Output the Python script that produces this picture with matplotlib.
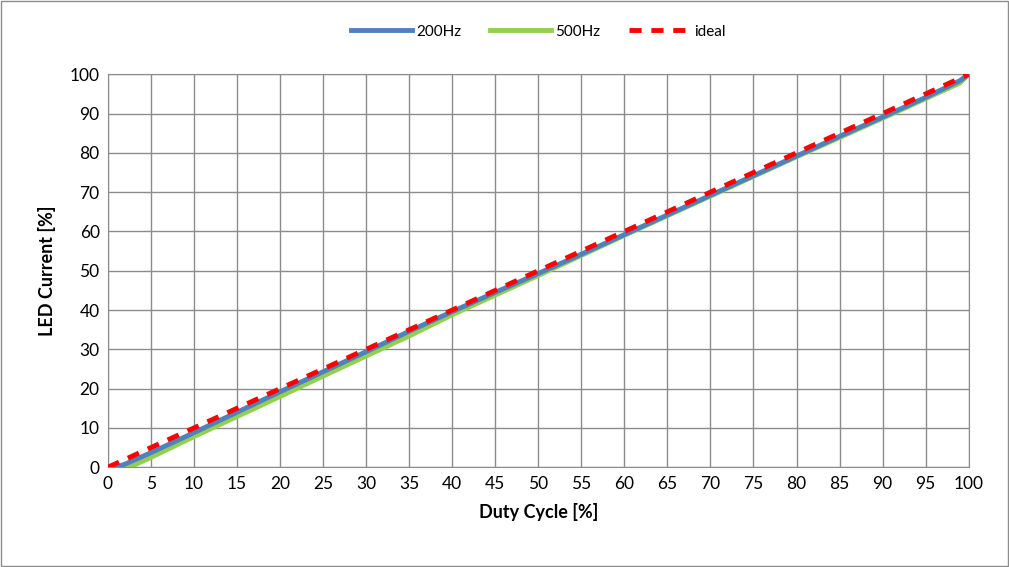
import matplotlib
matplotlib.use("Agg")
import matplotlib.pyplot as plt
from matplotlib.patches import Rectangle

plt.rcParams['font.family'] = ['Lato', 'DejaVu Sans']

duty_200 = [0, 1, 2, 5, 10, 15, 20, 25, 30, 35, 40, 45, 50, 55, 60, 65, 70, 75, 80, 85, 90, 95, 98, 99, 100]
current_200 = [0, 0, 0.8, 3.7, 8.8, 14.0, 19.2, 24.3, 29.4, 34.6, 39.6, 44.5, 49.3, 54.2, 59.2, 64.2, 69.2, 74.2, 79.2, 84.2, 89.1, 94.1, 97.3, 98.4, 100]

duty_500 = [0, 2.5, 5, 10, 15, 20, 25, 30, 35, 40, 45, 50, 55, 60, 65, 70, 75, 80, 85, 90, 95, 98, 99, 100]
current_500 = [0, 0, 2.5, 7.8, 12.9, 18.0, 23.2, 28.3, 33.4, 38.8, 43.8, 48.8, 53.9, 59.0, 64.0, 69.0, 74.0, 79.0, 83.9, 88.8, 93.8, 96.8, 97.8, 100]

duty_ideal = [0, 100]
current_ideal = [0, 100]

fig = plt.figure(figsize=(10.09, 5.67), dpi=100)
ax = fig.add_axes([0.107, 0.176, 0.853, 0.693])

ax.plot(duty_200, current_200, color='#4f81bd', lw=3.5, label='200Hz', zorder=3)
ax.plot(duty_500, current_500, color='#92d050', lw=3.5, label='500Hz', zorder=2)
ax.plot(duty_ideal, current_ideal, color='#ff0000', lw=3.5, ls=(0, (2.5, 2)), label='ideal', zorder=4)

ax.set_xlim(0, 100)
ax.set_ylim(0, 100)
ax.set_xticks(range(0, 101, 5))
ax.set_yticks(range(0, 101, 10))
ax.grid(True, color='#8c8c8c', lw=1)
ax.set_axisbelow(True)
for s in ax.spines.values():
    s.set_color('#8c8c8c')
ax.tick_params(length=0, labelsize=12.5, pad=6)

ax.set_xlabel('Duty Cycle [%]', fontsize=13, fontweight='bold', labelpad=8)
ax.set_ylabel('LED Current [%]', fontsize=13, fontweight='bold', labelpad=10)

ax.legend(loc='center', bbox_to_anchor=(0.5, 1.108), ncol=3, frameon=False,
          fontsize=11, handlelength=4.0, columnspacing=1.9, handletextpad=0.25)

fig.patches.append(Rectangle((0.001, 0.002), 0.998, 0.996, transform=fig.transFigure,
                             fill=False, edgecolor='#8c8c8c', lw=1))

fig.savefig('out.png', dpi=100)
